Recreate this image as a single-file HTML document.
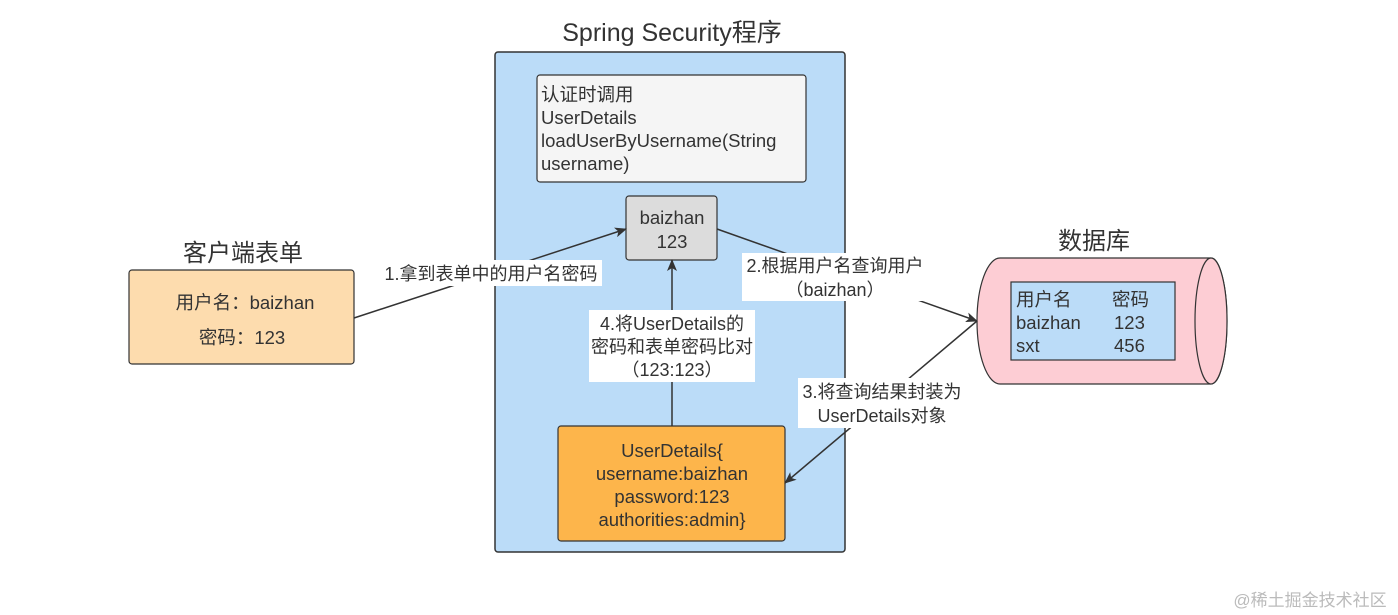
<!DOCTYPE html>
<html><head><meta charset="utf-8"><style>
html,body{margin:0;padding:0;background:#fff;}
svg{display:block;}
text{font-family:"Liberation Sans","Noto Sans CJK SC",sans-serif;fill:#333;}
</style></head><body>
<svg width="1398" height="615" viewBox="0 0 1398 615" xmlns="http://www.w3.org/2000/svg">
<defs>
<marker id="a" markerWidth="12" markerHeight="10" refX="11" refY="5" orient="auto" markerUnits="userSpaceOnUse">
<path d="M0,0 L12,5 L0,10 L3,5 Z" fill="#333"/></marker>
</defs>
<text x="672" y="41" font-size="25" text-anchor="middle">Spring Security程序</text>
<rect x="495" y="52" width="350" height="500" rx="3" fill="#bbdcf8" stroke="#333" stroke-width="1.5"/>
<rect x="537" y="75" width="269" height="107" rx="3" fill="#f5f5f5" stroke="#333" stroke-width="1.2"/>
<text font-size="18.5"><tspan x="541" y="101">认证时调用</tspan><tspan x="541" y="124">UserDetails</tspan><tspan x="541" y="147">loadUserByUsername(String</tspan><tspan x="541" y="170">username)</tspan></text>
<rect x="626" y="196" width="91" height="64" rx="3" fill="#dcdcdc" stroke="#333" stroke-width="1.2"/>
<text font-size="18.5" text-anchor="middle"><tspan x="672" y="224">baizhan</tspan><tspan x="672" y="248">123</tspan></text>
<rect x="558" y="426" width="227" height="115" rx="3" fill="#fdb54b" stroke="#333" stroke-width="1.2"/>
<text font-size="18.5" text-anchor="middle"><tspan x="672" y="457">UserDetails{</tspan><tspan x="672" y="480">username:baizhan</tspan><tspan x="672" y="503">password:123</tspan><tspan x="672" y="526">authorities:admin}</tspan></text>
<text x="243" y="261" font-size="24" text-anchor="middle">客户端表单</text>
<rect x="129" y="270" width="225" height="94" rx="3" fill="#fddcae" stroke="#333" stroke-width="1.2"/>
<text font-size="18.5" text-anchor="middle"><tspan x="245" y="309">用户名：baizhan</tspan><tspan x="242" y="344">密码：123</tspan></text>
<text x="1094" y="249" font-size="24" text-anchor="middle">数据库</text>
<path d="M1000,258 L1211,258 A16,63 0 0 1 1211,384 L1000,384 A23,63 0 0 1 1000,258 Z" fill="#fdcdd4" stroke="#333" stroke-width="1.2"/>
<ellipse cx="1211" cy="321" rx="16" ry="63" fill="#fdcdd4" stroke="#333" stroke-width="1.2"/>
<rect x="1011" y="282" width="164" height="78" fill="#bbdcf8" stroke="#333" stroke-width="1.2"/>
<text font-size="18.5"><tspan x="1016" y="306">用户名</tspan><tspan x="1112" y="306">密码</tspan><tspan x="1016" y="329">baizhan</tspan><tspan x="1114" y="329">123</tspan><tspan x="1016" y="352">sxt</tspan><tspan x="1114" y="352">456</tspan></text>
<line x1="354" y1="318" x2="626" y2="229" stroke="#333" stroke-width="1.5" marker-end="url(#a)"/>
<line x1="717" y1="229" x2="977" y2="321" stroke="#333" stroke-width="1.5" marker-end="url(#a)"/>
<line x1="977" y1="321" x2="785" y2="483" stroke="#333" stroke-width="1.5" marker-end="url(#a)"/>
<line x1="672" y1="426" x2="672" y2="260" stroke="#333" stroke-width="1.5" marker-end="url(#a)"/>
<rect x="380" y="260" width="222" height="26" fill="#fff"/>
<text x="491" y="280" font-size="18" text-anchor="middle">1.拿到表单中的用户名密码</text>
<rect x="742" y="253" width="186" height="48" fill="#fff"/>
<text font-size="18" text-anchor="middle"><tspan x="835" y="272">2.根据用户名查询用户</tspan><tspan x="835" y="296">（baizhan）</tspan></text>
<rect x="589" y="310" width="166" height="72" fill="#fff"/>
<text font-size="18" text-anchor="middle"><tspan x="672" y="330">4.将UserDetails的</tspan><tspan x="672" y="353">密码和表单密码比对</tspan><tspan x="672" y="376">（123:123）</tspan></text>
<rect x="798" y="378" width="170" height="50" fill="#fff"/>
<text font-size="18" text-anchor="middle"><tspan x="882" y="398">3.将查询结果封装为</tspan><tspan x="882" y="422">UserDetails对象</tspan></text>
<text x="1310" y="606" font-size="17" text-anchor="middle" style="fill:#bbb">@稀土掘金技术社区</text>
</svg>
</body></html>
